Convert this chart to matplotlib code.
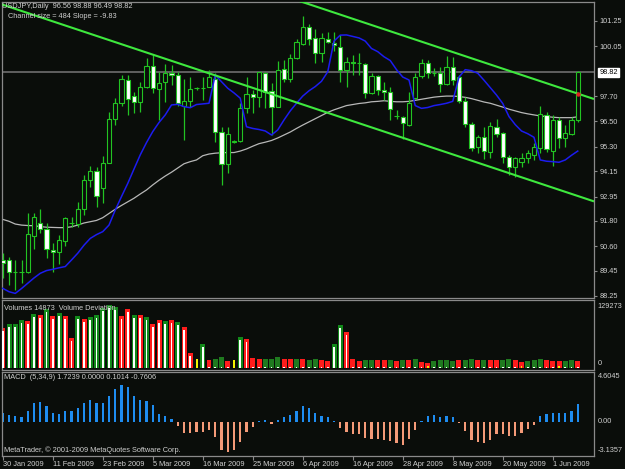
import matplotlib
matplotlib.use('Agg')
import matplotlib.pyplot as plt
from matplotlib.ticker import FixedLocator, FixedFormatter, NullLocator

# ---------------- data ----------------
opens = [89.95, 89.95, 89.37, 89.38, 89.37, 91.10, 91.68, 91.40, 90.42, 90.34,
         90.85, 91.68, 91.64, 92.35, 93.73, 94.16, 93.37, 94.55, 96.60, 97.36,
         98.46, 97.72, 97.40, 98.11, 99.12, 98.04, 98.38, 98.78, 98.70, 97.23,
         97.47, 98.07, 98.07, 98.11, 98.51, 95.99, 94.47, 95.54, 95.58, 97.12,
         97.78, 97.64, 98.81, 97.96, 97.20, 98.97, 98.49, 99.48, 100.15, 100.98,
         100.43, 99.72, 100.40, 100.23, 100.04, 98.93, 99.33, 99.25, 99.20, 97.86,
         98.67, 97.99, 97.91, 96.76, 96.73, 96.33, 97.59, 98.65, 99.28, 98.78,
         98.81, 98.27, 99.09, 98.59, 97.48, 96.38, 95.28, 95.78, 95.07, 96.22,
         95.94, 94.84, 94.33, 94.60, 94.76, 94.92, 95.23, 96.81, 95.10, 96.57,
         95.70, 95.91, 96.56]
closes = [89.82, 89.37, 89.38, 89.37, 91.18, 91.97, 91.40, 90.45, 90.33, 90.90,
          91.92, 91.70, 92.35, 93.73, 94.16, 92.99, 94.55, 96.62, 97.36, 98.49,
          97.56, 97.40, 98.15, 99.12, 98.07, 98.30, 98.78, 98.70, 97.36, 97.47,
          98.04, 98.08, 98.10, 98.59, 95.99, 94.47, 95.89, 95.56, 97.12, 97.80,
          97.64, 98.82, 97.91, 97.20, 98.93, 98.49, 99.48, 100.27, 100.98, 100.38,
          99.72, 100.43, 100.24, 100.12, 98.93, 99.33, 99.25, 99.26, 97.86, 98.67,
          97.99, 97.91, 97.07, 96.78, 96.44, 97.39, 98.62, 99.25, 98.78, 98.79,
          98.26, 99.09, 98.46, 97.48, 96.38, 95.23, 95.78, 95.12, 96.29, 95.91,
          94.84, 94.36, 94.76, 94.76, 94.99, 95.28, 96.85, 95.18, 96.57, 95.70,
          95.94, 96.57, 98.82]
highs = [90.27, 90.11, 89.95, 89.95, 92.19, 92.19, 92.35, 91.68, 90.74, 91.13,
         92.00, 92.00, 92.68, 93.97, 94.41, 94.36, 94.87, 96.96, 97.59, 98.70,
         98.70, 97.91, 98.38, 99.49, 99.64, 98.85, 99.22, 99.17, 98.85, 98.49,
         98.62, 98.15, 98.62, 98.93, 98.78, 96.25, 96.25, 95.62, 97.36, 98.59,
         97.99, 98.85, 98.85, 98.30, 99.36, 99.41, 99.67, 100.38, 101.49, 101.11,
         100.86, 100.67, 100.71, 100.71, 100.59, 99.56, 99.64, 99.72, 99.25, 98.81,
         98.70, 98.38, 98.15, 97.04, 96.76, 97.91, 98.78, 99.45, 99.41, 99.01,
         99.09, 99.60, 99.56, 98.70, 97.67, 96.49, 95.86, 96.22, 96.49, 96.62,
         96.02, 94.92, 94.84, 94.99, 95.15, 95.50, 97.23, 96.96, 96.81, 96.70,
         96.33, 96.73, 98.88]
lows = [89.08, 88.77, 88.53, 88.85, 89.32, 90.45, 91.21, 90.03, 89.40, 89.76,
        90.61, 91.53, 91.53, 92.08, 93.42, 92.47, 92.63, 94.52, 96.33, 97.25,
        96.81, 96.89, 96.96, 98.07, 97.83, 96.57, 97.44, 98.22, 97.25, 95.62,
        97.20, 97.99, 97.52, 98.11, 95.54, 93.50, 94.08, 95.50, 95.54, 96.88,
        96.88, 97.20, 97.12, 95.86, 97.17, 98.38, 98.38, 99.44, 100.12, 100.12,
        99.28, 99.30, 100.19, 99.85, 98.38, 98.15, 98.70, 98.70, 97.59, 97.78,
        97.75, 97.52, 96.57, 96.62, 95.66, 96.29, 97.55, 98.54, 98.54, 98.65,
        97.91, 98.22, 98.22, 97.36, 96.25, 95.12, 94.99, 94.71, 94.76, 95.78,
        94.52, 93.97, 93.89, 94.36, 94.55, 94.68, 94.99, 95.07, 94.39, 95.23,
        95.28, 95.86, 96.49]

ma_blue = [88.61, 88.45, 88.37, 88.60, 88.85, 89.10, 89.32, 89.45, 89.51, 89.58,
           89.64, 89.95, 90.27, 90.65, 90.97, 91.15, 91.29, 91.60, 92.31, 92.95,
           93.57, 94.25, 94.92, 95.50, 96.02, 96.45, 96.81, 97.28, 97.31, 97.20,
           97.15, 97.30, 97.33, 97.36, 98.70, 98.38, 98.07, 97.85, 97.60, 96.25,
           96.17, 96.12, 96.05, 95.86, 96.10, 96.57, 97.00, 97.36, 97.70, 97.95,
           98.15, 98.40, 98.85, 100.30, 100.58, 100.59, 100.52, 100.45, 100.30, 99.95,
           99.80, 99.56, 99.38, 98.95, 98.60, 98.46, 97.25, 97.12, 97.16, 97.25,
           97.30, 97.36, 97.45, 98.60, 98.95, 98.90, 98.78, 98.45, 98.10, 97.75,
           97.35, 96.73, 96.35, 96.05, 95.92, 95.75, 94.68, 94.62, 94.60, 94.57,
           94.68, 94.90, 95.10]
ma_gray = [91.87, 91.78, 91.65, 91.60, 91.58, 91.57, 91.53, 91.50, 91.49, 91.48,
           91.48, 91.52, 91.60, 91.70, 91.76, 91.82, 91.95, 92.15, 92.35, 92.53,
           92.70, 92.87, 93.07, 93.26, 93.50, 93.72, 93.92, 94.10, 94.30, 94.50,
           94.60, 94.68, 94.88, 94.96, 95.00, 95.02, 95.03, 95.03, 95.10, 95.20,
           95.33, 95.45, 95.52, 95.60, 95.72, 95.86, 96.00, 96.17, 96.33, 96.48,
           96.63, 96.78, 96.93, 97.05, 97.15, 97.25, 97.30, 97.35, 97.38, 97.43,
           97.45, 97.48, 97.45, 97.43, 97.43, 97.45, 97.50, 97.55, 97.60, 97.65,
           97.68, 97.70, 97.70, 97.68, 97.64, 97.58, 97.50, 97.42, 97.36, 97.27,
           97.18, 97.08, 97.00, 96.92, 96.86, 96.81, 96.76, 96.73, 96.70, 96.68,
           96.68, 96.68, 96.72]

volumes = [82100, 90300, 90300, 98500, 96400, 110800, 108800, 121100, 106700, 112900,
           106700, 61600, 106700, 100500, 104700, 108800, 123100, 129273, 125200, 106700,
           121100, 108800, 108800, 104700, 90300, 98500, 96400, 98500, 94400, 84100,
           30800, 18500, 49200, 16400, 18500, 22600, 14400, 16400, 63600, 59500,
           20500, 18500, 18500, 18500, 22600, 18500, 18500, 18500, 18500, 16400,
           18500, 16400, 14400, 49200, 88200, 73900, 18500, 14400, 16400, 16400,
           16400, 16400, 16400, 14400, 16400, 16400, 18500, 12300, 10300, 14400,
           16400, 16400, 14400, 16400, 16400, 18500, 16400, 16400, 16400, 16400,
           16400, 18500, 16400, 12300, 14400, 16400, 18500, 16400, 14400, 14400,
           14400, 16400, 14873]
vol_dev = [75900, 84100, 84100, 92300, 90300, 104700, 102600, 114900, 100500, 106700,
           100500, 55400, 100500, 94400, 98500, 102600, 117000, 123100, 119000, 100500,
           114900, 102600, 102600, 98500, 84100, 92300, 90300, 92300, 88200, 78000,
           24600, 18500, 43100, 3000, 3000, 3000, 3000, 16400, 57400, 53300,
           3000, 3000, 3000, 3000, 3000, 3000, 3000, 3000, 3000, 3000,
           3000, 3000, 3000, 43100, 82100, 67700, 3000, 3000, 3000, 3000,
           3000, 3000, 3000, 3000, 3000, 3000, 3000, 3000, 4000, 3000,
           3000, 3000, 3000, 3000, 3000, 3000, 3000, 3000, 3000, 3000,
           3000, 3000, 3000, 4000, 3000, 3000, 3000, 3000, 3000, 4000,
           3000, 3000, 3000]
vol_dir = list("rgggrgrgrgrrgrgggggrrgrgrrgrgrr" "ygrggryg" "rrrgggrrgrggrrggrrrggrrgrgrgrr"
               "ggggrggrgrrggrrgggrrrggr")

macd_hist = [0.79, 0.66, 0.50, 0.41, 1.04, 1.76, 1.89, 1.45, 0.82, 0.72,
             0.98, 1.04, 1.29, 1.73, 2.08, 1.79, 1.79, 2.45, 3.08, 3.49,
             3.24, 2.45, 2.05, 1.98, 1.57, 0.72, 0.50, 0.25, -0.38, -1.07,
             -1.07, -1.01, -1.01, -0.79, -1.48, -2.64, -2.83, -2.64, -1.89, -1.01,
             -0.47, 0.09, 0.16, -0.22, 0.16, 0.41, 0.66, 0.98, 1.45, 1.29,
             0.79, 0.57, 0.41, 0.09, -0.54, -1.01, -1.16, -1.16, -1.57, -1.64,
             -1.64, -1.70, -1.86, -2.01, -2.20, -1.64, -0.76, 0.09, 0.57, 0.66,
             0.41, 0.50, 0.41, -0.16, -0.91, -1.70, -1.95, -2.05, -1.70, -1.16,
             -1.16, -1.38, -1.32, -1.07, -0.69, -0.31, 0.57, 0.72, 0.79, 0.79,
             0.79, 1.04, 1.7239]

date_bars = [0, 8, 16, 24, 32, 40, 48, 56, 64, 72, 80, 88]
date_labels = ["30 Jan 2009", "11 Feb 2009", "23 Feb 2009", "5 Mar 2009",
               "16 Mar 2009", "25 Mar 2009", "6 Apr 2009", "16 Apr 2009",
               "28 Apr 2009", "8 May 2009", "20 May 2009", "1 Jun 2009"]
price_ticks = [101.25, 100.05, 97.70, 96.50, 95.30, 94.15, 92.95, 91.80, 90.60, 89.45, 88.25]
price_tick_labels = ["101.25", "100.05", "97.70", "96.50", "95.30", "94.15",
                     "92.95", "91.80", "90.60", "89.45", "88.25"]
last_price = 98.82
chan_start = 102.02      # lower channel line at first bar
chan_slope = -0.0983     # per bar  (Slope = -9.83 points)
chan_size = 4.84         # Channel size = 484 points
vol_max = 129273
macd_max, macd_min = 4.6045, -3.1357

n = len(opens)
assert all(len(a) == n for a in [closes, highs, lows, ma_blue, ma_gray, volumes,
                                  vol_dev, vol_dir, macd_hist])
idx = list(range(n))

# ---------------- style ----------------
W, H = 625, 469
BG = '#0a0d0a'
GRID = '#8a8a8a'
TXT = '#cfcfcf'
CAND = '#22c322'
FONT = ['Liberation Sans', 'DejaVu Sans']
FS = 5.3
plt.rcParams['font.family'] = FONT

fig = plt.figure(figsize=(W / 100, H / 100), dpi=100, facecolor=BG)


def axes_px(x0, y0, x1, y1):
    a = fig.add_axes([x0 / W, 1 - y1 / H, (x1 - x0) / W, (y1 - y0) / H], facecolor=BG)
    for s in a.spines.values():
        s.set_color(GRID)
        s.set_linewidth(0.9)
    a.xaxis.set_major_locator(NullLocator())
    a.yaxis.set_major_locator(NullLocator())
    return a


XL = (-0.12, 94.6)
ax = axes_px(2, 2, 594, 298)
axv = axes_px(2, 300, 594, 370)
axm = axes_px(2, 372, 594, 456)
for a in (ax, axv, axm):
    a.set_xlim(*XL)

# ---------------- main price panel ----------------
ax.set_ylim(88.153, 102.148)
ax.axhline(last_price, color='#6e6e6e', lw=1.2, zorder=1)
ax.plot(idx, ma_gray, color='#b8b8b8', lw=0.9, zorder=2)
ax.vlines(idx, lows, highs, color=CAND, lw=0.9, zorder=3)
for i in idx:
    o, c = opens[i], closes[i]
    lo, hi = min(o, c), max(o, c)
    h = max(hi - lo, 0.015)
    ax.bar(i, h, bottom=lo, width=0.7, facecolor=('white' if c < o else BG),
           edgecolor=CAND, linewidth=0.8, zorder=4)
ax.plot(idx, ma_blue, color='#1c1cf0', lw=1.1, zorder=5)
xs = [XL[0], XL[1]]
low_line = [chan_start + chan_slope * x for x in xs]
up_line = [v + chan_size for v in low_line]
ax.plot(xs, low_line, color='#3ee83e', lw=1.5, zorder=6, solid_capstyle='butt')
ax.plot(xs, up_line, color='#3ee83e', lw=1.5, zorder=6, solid_capstyle='butt')
ax.plot([n - 1], [chan_start + chan_slope * (n - 1) + chan_size], marker='o',
        ms=2.2, color='#e02020', zorder=7)

ax.yaxis.tick_right()
ax.yaxis.set_major_locator(FixedLocator(price_ticks))
ax.yaxis.set_major_formatter(FixedFormatter(price_tick_labels))
ax.tick_params(axis='y', colors=GRID, labelcolor=TXT, length=2.5, width=0.8,
               pad=1.5, labelsize=FS)
ax.annotate(f"{last_price:.2f}", xy=(1, last_price), xycoords=('axes fraction', 'data'),
            xytext=(4, 0), textcoords='offset points', va='center', ha='left',
            fontsize=FS, color='black',
            bbox=dict(boxstyle='square,pad=0.15', fc='white', ec='white'),
            annotation_clip=False)

fig.text(2 / W, 1 - 6.5 / H, "USDJPY,Daily  96.56 98.88 96.49 98.82", color=TXT,
         fontsize=FS, va='center', ha='left')
fig.text(7.5 / W, 1 - 16 / H, "Channel size = 484 Slope = -9.83", color=TXT,
         fontsize=FS, va='center', ha='left')

# ---------------- volume panel ----------------
px_v = vol_max / 63.0
axv.set_ylim(-2 * px_v, vol_max + 5 * px_v)
col_out = {'g': '#12891a', 'r': '#ff1c1c'}
for i in idx:
    d = vol_dir[i]
    if d == 'y':
        axv.bar(i, volumes[i], width=0.32, color='#f2f200', zorder=3)
        continue
    big = volumes[i] > 25000
    oc = col_out[d] if (big or d == 'r') else '#1f7a1f'
    axv.bar(i, volumes[i], width=0.8, color=oc, zorder=2)
    core = '#f0f000' if (vol_dev[i] > 3500 and not big) else 'white'
    axv.bar(i, vol_dev[i], width=0.3, color=core, zorder=3)

axv.annotate(str(vol_max), xy=(1, vol_max), xycoords=('axes fraction', 'data'),
             xytext=(2.5, -1), textcoords='offset points', va='center', ha='left',
             fontsize=FS, color=TXT, annotation_clip=False)
axv.annotate("0", xy=(1, 0), xycoords=('axes fraction', 'data'),
             xytext=(2.5, 3), textcoords='offset points', va='center', ha='left',
             fontsize=FS, color=TXT, annotation_clip=False)
fig.text(4.5 / W, 1 - 308.5 / H, "Volumes 14873  Volume Deviation", color=TXT,
         fontsize=FS, va='center', ha='left', zorder=10)

# ---------------- MACD panel ----------------
px_m = (macd_max - macd_min) / 82.0
axm.set_ylim(macd_min - 1 * px_m, macd_max + 1 * px_m)
mcol = ['#1e8cf0' if v >= 0 else '#f49a78' for v in macd_hist]
axm.bar(idx, macd_hist, width=0.38, color=mcol, zorder=2)
for val, dy, lab in [(macd_max, -2.2, "4.6045"), (0.0, 0, "0.00"), (macd_min, 3.6, "-3.1357")]:
    axm.annotate(lab, xy=(1, val), xycoords=('axes fraction', 'data'),
                 xytext=(2.5, dy), textcoords='offset points', va='center', ha='left',
                 fontsize=FS, color=TXT, annotation_clip=False)
fig.text(4 / W, 1 - 377.5 / H, "MACD  (5,34,9) 1.7239 0.0000 0.1014 -0.7606", color=TXT,
         fontsize=FS, va='center', ha='left')
fig.text(4 / W, 1 - 450 / H, "MetaTrader, \u00a9 2001-2009 MetaQuotes Software Corp.",
         color=TXT, fontsize=FS, va='center', ha='left')

axm.xaxis.set_major_locator(FixedLocator(date_bars))
axm.xaxis.set_major_formatter(FixedFormatter(date_labels))
axm.tick_params(axis='x', colors=GRID, labelcolor=TXT, length=3, width=0.8,
                pad=0.8, labelsize=FS)
for t in axm.get_xticklabels():
    t.set_ha('left')

fig.savefig('out.png', dpi=100, facecolor=BG)
